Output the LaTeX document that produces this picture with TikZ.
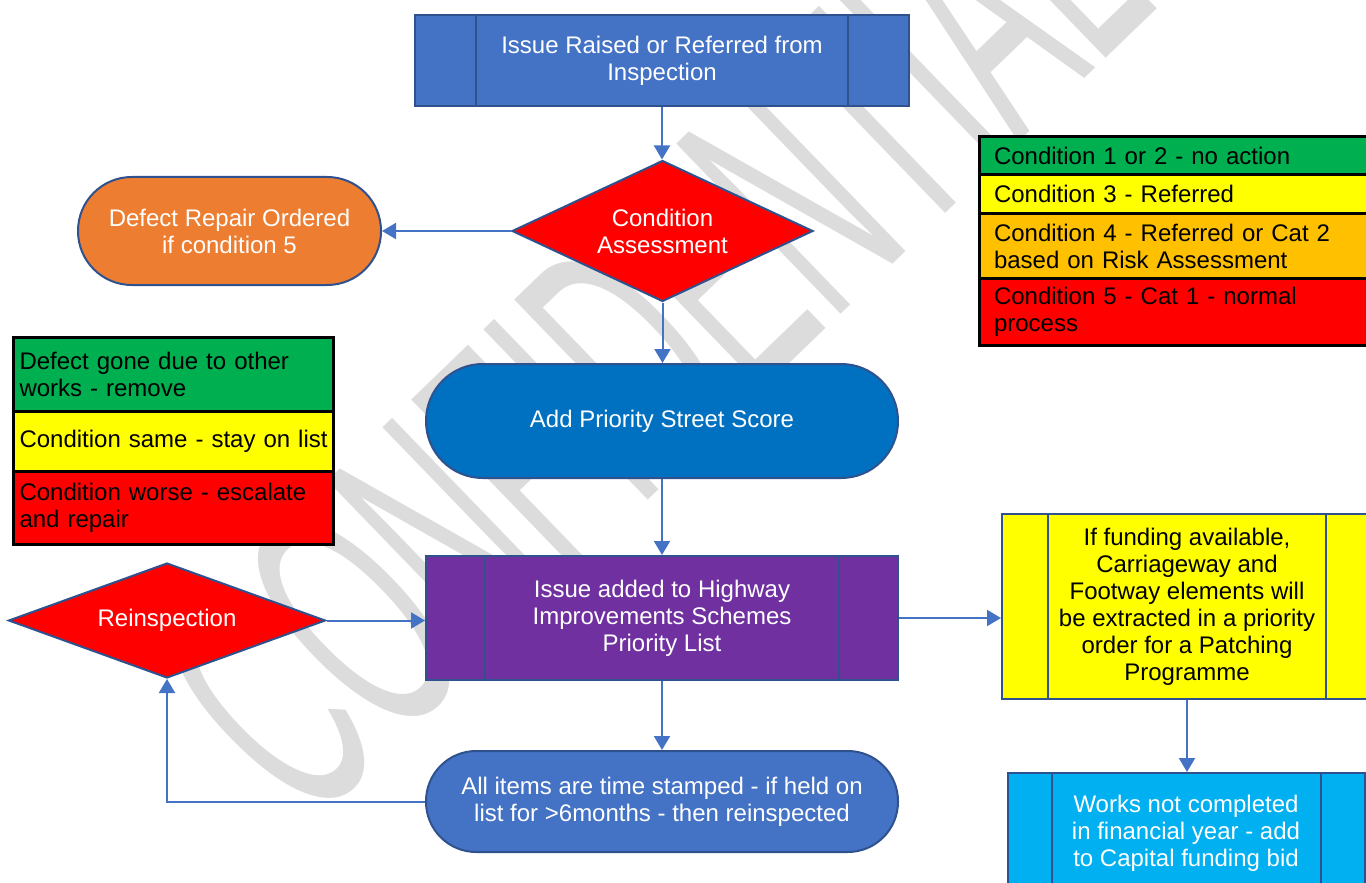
\documentclass[tikz,border=0pt]{standalone}
\usepackage{fontspec}
\setmainfont{Liberation Sans}
\usepackage{graphicx}
\usetikzlibrary{shapes.geometric,arrows.meta,calc}
\definecolor{bfill}{HTML}{4472C4}
\definecolor{bline}{HTML}{2F528F}
\definecolor{dblue}{HTML}{0070C0}
\definecolor{purp}{HTML}{7030A0}
\definecolor{orng}{HTML}{ED7D31}
\definecolor{cyanb}{HTML}{00B0F0}
\definecolor{lgreen}{HTML}{00B050}
\definecolor{lyellow}{HTML}{FFFF00}
\definecolor{lorange}{HTML}{FFC000}
\definecolor{lred}{HTML}{FF0000}
\definecolor{wmgray}{HTML}{DCDCDC}
\begin{document}
\begin{tikzpicture}[x=0.5pt,y=-0.5pt,
  font=\fontsize{12pt}{13.5pt}\selectfont,
  shp/.style={draw=bline, line width=1pt, text=white, align=center, inner sep=0pt},
  proc/.style={shp, rectangle},
  term/.style={shp, rectangle, rounded corners=#1},
  dec/.style={shp, diamond, fill=lred},
  inline/.style={draw=bline, line width=1pt},
  conn/.style={draw=bfill, line width=1pt, -{Triangle[width=8pt,length=7pt]}},
  leg/.style={draw=black, line width=1.5pt, rectangle, align=left, anchor=north west, text=black, inner ysep=0pt},
  legR/.style={leg, minimum width=197.5pt, text width=183pt, inner xsep=7pt},
  legL/.style={leg, minimum width=160pt, text width=154pt, inner xsep=3pt},
]
\useasboundingbox (0,0) rectangle (1366,883);

% watermark
\node[rotate=44, text=wmgray, inner sep=0pt] (wm) at (652,332)
  {\fontsize{172pt}{172pt}\selectfont\scalebox{0.47}[1]{CONFIDENTIAL}};

% flow nodes
\node[proc, fill=bfill, minimum width=247pt, minimum height=45.5pt] (top) at (662,60.5)
  {Issue Raised or Referred from\\Inspection};
\draw[inline] ([xshift=31pt]top.north west) -- ([xshift=31pt]top.south west);
\draw[inline] ([xshift=-31pt]top.north east) -- ([xshift=-31pt]top.south east);

\node[dec, aspect=2.13, minimum width=150.5pt, minimum height=70.5pt] (cond) at (662.5,231)
  {Condition\\Assessment};

\node[term=26.9pt, fill=orng, minimum width=151.5pt, minimum height=54pt] (orange) at (229.5,231)
  {Defect Repair Ordered\\if condition 5};

\node[term=28.4pt, fill=dblue, minimum width=236pt, minimum height=57pt] (add) at (662,421)
  {Add Priority Street Score};

\node[proc, fill=purp, minimum width=236pt, minimum height=62pt] (purple) at (662,618)
  {Issue added to Highway\\Improvements Schemes\\Priority List};
\draw[inline] ([xshift=30pt]purple.north west) -- ([xshift=30pt]purple.south west);
\draw[inline] ([xshift=-30pt]purple.north east) -- ([xshift=-30pt]purple.south east);

\node[term=25.1pt, fill=bfill, minimum width=236pt, minimum height=50.5pt] (lower) at (662,801.5)
  {All items are time stamped - if held on\\list for >6months - then reinspected};

\node[dec, aspect=2.76, minimum width=158.5pt, minimum height=57.5pt] (reinsp) at (167,620.5)
  {Reinspection};

\node[proc, fill=lyellow, text=black, minimum width=185pt, minimum height=92.5pt] (yellow) at (1187,606.5)
  {If funding available,\\Carriageway and\\Footway elements will\\be extracted in a priority\\order for a Patching\\Programme};
\draw[inline] ([xshift=23.5pt]yellow.north west) -- ([xshift=23.5pt]yellow.south west);
\draw[inline] ([xshift=-23.5pt]yellow.north east) -- ([xshift=-23.5pt]yellow.south east);

\node[proc, fill=cyanb, minimum width=178.5pt, minimum height=60pt] (blue) at (1186,833)
  {Works not completed\\in financial year - add\\to Capital funding bid};
\draw[inline] ([xshift=22.5pt]blue.north west) -- ([xshift=22.5pt]blue.south west);
\draw[inline] ([xshift=-22.5pt]blue.north east) -- ([xshift=-22.5pt]blue.south east);

% connectors
\draw[conn] (top.south) -- (top.south |- cond.north);
\draw[conn] (cond.west) -- (orange.east);
\draw[conn] (cond.south) -- (cond.south |- add.north);
\draw[conn] (add.south) -- (purple.north);
\draw[conn] (purple.south) -- (lower.north);
\draw[conn] (lower.west) -| (reinsp.south);
\draw[conn] (reinsp.east) -- (reinsp.east -| purple.west);
\draw[conn] (purple.east) -- (purple.east -| yellow.west);
\draw[conn] (yellow.south) -- (yellow.south |- blue.north);

% right legend
\node[legR, fill=lgreen, minimum height=19pt] (r1) at (978,135)
  {Condition 1 or 2 - no action};
\node[legR, fill=lyellow, minimum height=19.5pt] (r2) at (978,173)
  {Condition 3 - Referred};
\node[legR, fill=lorange, minimum height=32.5pt] (r3) at (978,212)
  {Condition 4 - Referred or Cat 2\\based on Risk Assessment};
\node[legR, fill=lred, minimum height=33.5pt] (r4) at (978,277)
  {Condition 5 - Cat 1 - normal\\process};

% left legend
\node[legL, fill=lgreen, minimum height=37pt] (l1) at (12,336)
  {Defect gone due to other\\works - remove};
\node[legL, fill=lyellow, minimum height=30pt] (l2) at (12,410)
  {\mbox{Condition same - stay on list}};
\node[legL, fill=lred, minimum height=36.5pt] (l3) at (12,470)
  {Condition worse - escalate\\and repair};
\end{tikzpicture}
\end{document}
